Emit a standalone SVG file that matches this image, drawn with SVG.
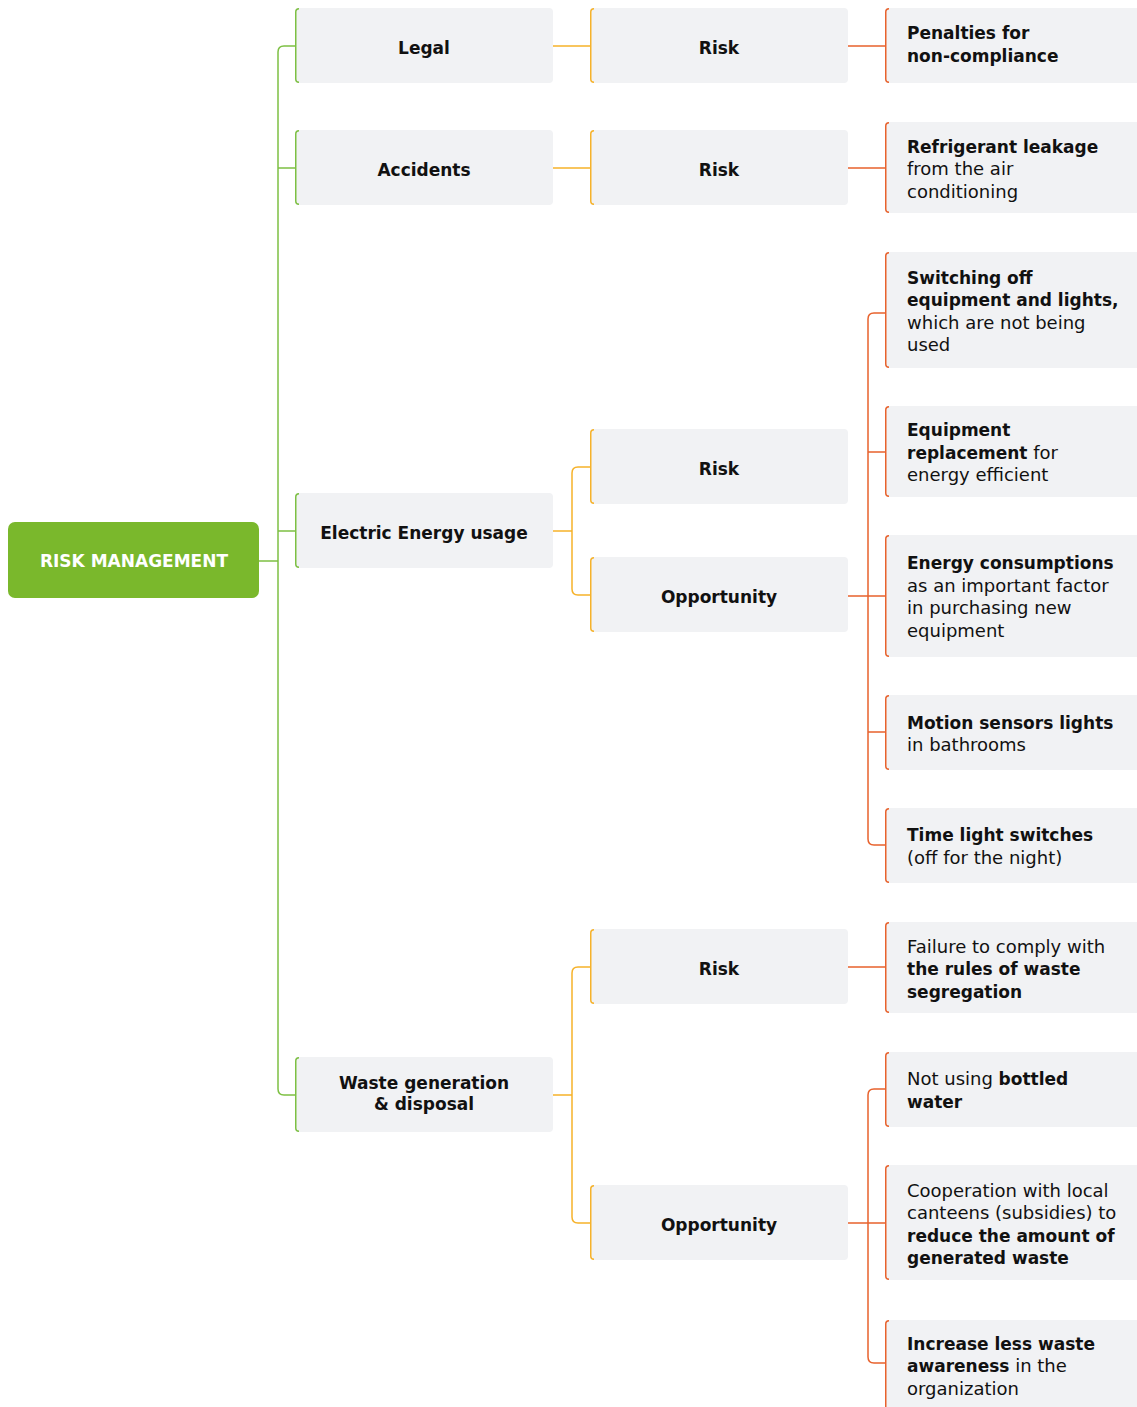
<svg xmlns="http://www.w3.org/2000/svg" width="1137" height="1407" viewBox="0 0 1137 1407">
<style>
text{font-family:"DejaVu Sans","Liberation Sans",sans-serif;fill:#111;font-size:18px}
.b{font-weight:bold;font-size:17px}
.c{text-anchor:middle;font-weight:bold;font-size:17px}
.root{fill:#7ab82c}
.rt{fill:#fff;font-weight:bold;font-size:17px;text-anchor:middle}
.n{fill:#f1f2f4}
.g{fill:none;stroke:#7dc043;stroke-width:1.5}
.y{fill:none;stroke:#f6b22a;stroke-width:1.5}
.o{fill:none;stroke:#e8622d;stroke-width:1.5}
</style>
<rect width="1137" height="1407" fill="#fff"/>
<g id="connectors">
<path class="g" d="M259,561 H278 M295,46 H284 Q278,46 278,52 V1089 Q278,1095 284,1095 H295 M278,168 H295 M278,531 H295"/>
<path class="y" d="M553,46 H590 M553,168 H590 M553,531 H572 M590,467 H578 Q572,467 572,473 V589 Q572,595 578,595 H590 M553,1095 H572 M590,967 H578 Q572,967 572,973 V1217 Q572,1223 578,1223 H590"/>
<path class="o" d="M848,46 H885 M848,168 H885 M848,596 H885 M885,313 H874 Q868,313 868,319 V839 Q868,845 874,845 H885 M868,452 H885 M868,732 H885 M848,967 H885 M848,1223 H885 M885,1089 H874 Q868,1089 868,1095 V1357 Q868,1363 874,1363 H885"/>
</g>
<g id="root">
<rect class="root" x="8" y="522" width="251" height="76" rx="7"/>
<text class="rt" x="134" y="567">RISK MANAGEMENT</text>
</g>
<g id="legal">
<rect class="n" x="295" y="8" width="258" height="75" rx="4"/>
<path class="g" d="M299,8.75 Q295.75,8.75 295.75,12 V79 Q295.75,82.25 299,82.25"/>
<text class="c" x="424" y="53.5">Legal</text>
</g>
<g id="accidents">
<rect class="n" x="295" y="130" width="258" height="75" rx="4"/>
<path class="g" d="M299,130.75 Q295.75,130.75 295.75,134 V201 Q295.75,204.25 299,204.25"/>
<text class="c" x="424" y="175.5">Accidents</text>
</g>
<g id="electric">
<rect class="n" x="295" y="493" width="258" height="75" rx="4"/>
<path class="g" d="M299,493.75 Q295.75,493.75 295.75,497 V564 Q295.75,567.25 299,567.25"/>
<text class="c" x="424" y="538.5">Electric Energy usage</text>
</g>
<g id="waste">
<rect class="n" x="295" y="1057" width="258" height="75" rx="4"/>
<path class="g" d="M299,1057.75 Q295.75,1057.75 295.75,1061 V1128 Q295.75,1131.25 299,1131.25"/>
<text class="c" x="424" y="1088.5">Waste generation</text>
<text class="c" x="424" y="1110">&amp; disposal</text>
</g>
<g id="legal-risk">
<rect class="n" x="590" y="8" width="258" height="75" rx="4"/>
<path class="y" d="M594,8.75 Q590.75,8.75 590.75,12 V79 Q590.75,82.25 594,82.25"/>
<text class="c" x="719" y="53.5">Risk</text>
</g>
<g id="accidents-risk">
<rect class="n" x="590" y="130" width="258" height="75" rx="4"/>
<path class="y" d="M594,130.75 Q590.75,130.75 590.75,134 V201 Q590.75,204.25 594,204.25"/>
<text class="c" x="719" y="175.5">Risk</text>
</g>
<g id="electric-risk">
<rect class="n" x="590" y="429" width="258" height="75" rx="4"/>
<path class="y" d="M594,429.75 Q590.75,429.75 590.75,433 V500 Q590.75,503.25 594,503.25"/>
<text class="c" x="719" y="474.5">Risk</text>
</g>
<g id="electric-opportunity">
<rect class="n" x="590" y="557" width="258" height="75" rx="4"/>
<path class="y" d="M594,557.75 Q590.75,557.75 590.75,561 V628 Q590.75,631.25 594,631.25"/>
<text class="c" x="719" y="602.5">Opportunity</text>
</g>
<g id="waste-risk">
<rect class="n" x="590" y="929" width="258" height="75" rx="4"/>
<path class="y" d="M594,929.75 Q590.75,929.75 590.75,933 V1000 Q590.75,1003.25 594,1003.25"/>
<text class="c" x="719" y="974.5">Risk</text>
</g>
<g id="waste-opportunity">
<rect class="n" x="590" y="1185" width="258" height="75" rx="4"/>
<path class="y" d="M594,1185.75 Q590.75,1185.75 590.75,1189 V1256 Q590.75,1259.25 594,1259.25"/>
<text class="c" x="719" y="1230.5">Opportunity</text>
</g>
<g id="penalties">
<rect class="n" x="885" y="8" width="262" height="75" rx="4"/>
<path class="o" d="M889,8.75 Q885.75,8.75 885.75,12 V79 Q885.75,82.25 889,82.25"/>
<text x="907"><tspan class="b" x="907" y="39">Penalties for</tspan><tspan class="b" x="907" y="62">non-compliance</tspan></text>
</g>
<g id="refrigerant">
<rect class="n" x="885" y="122" width="262" height="91" rx="4"/>
<path class="o" d="M889,122.75 Q885.75,122.75 885.75,126 V209 Q885.75,212.25 889,212.25"/>
<text x="907"><tspan class="b" x="907" y="152.5">Refrigerant leakage</tspan><tspan x="907" y="175">from the air</tspan><tspan x="907" y="197.5">conditioning</tspan></text>
</g>
<g id="switching">
<rect class="n" x="885" y="252" width="262" height="116" rx="4"/>
<path class="o" d="M889,252.75 Q885.75,252.75 885.75,256 V364 Q885.75,367.25 889,367.25"/>
<text x="907"><tspan class="b" x="907" y="283.5">Switching off</tspan><tspan class="b" x="907" y="306">equipment and lights,</tspan><tspan x="907" y="328.5">which are not being</tspan><tspan x="907" y="351">used</tspan></text>
</g>
<g id="equipment">
<rect class="n" x="885" y="406" width="262" height="91" rx="4"/>
<path class="o" d="M889,406.75 Q885.75,406.75 885.75,410 V493 Q885.75,496.25 889,496.25"/>
<text x="907"><tspan class="b" x="907" y="436">Equipment</tspan><tspan x="907" y="458.5"><tspan class="b">replacement</tspan> for</tspan><tspan x="907" y="481">energy efficient</tspan></text>
</g>
<g id="energy">
<rect class="n" x="885" y="535" width="262" height="122" rx="4"/>
<path class="o" d="M889,535.75 Q885.75,535.75 885.75,539 V653 Q885.75,656.25 889,656.25"/>
<text x="907"><tspan class="b" x="907" y="569">Energy consumptions</tspan><tspan x="907" y="591.5">as an important factor</tspan><tspan x="907" y="614">in purchasing new</tspan><tspan x="907" y="636.5">equipment</tspan></text>
</g>
<g id="motion">
<rect class="n" x="885" y="695" width="262" height="75" rx="4"/>
<path class="o" d="M889,695.75 Q885.75,695.75 885.75,699 V766 Q885.75,769.25 889,769.25"/>
<text x="907"><tspan class="b" x="907" y="728.5">Motion sensors lights</tspan><tspan x="907" y="751">in bathrooms</tspan></text>
</g>
<g id="time">
<rect class="n" x="885" y="808" width="262" height="75" rx="4"/>
<path class="o" d="M889,808.75 Q885.75,808.75 885.75,812 V879 Q885.75,882.25 889,882.25"/>
<text x="907"><tspan class="b" x="907" y="841">Time light switches</tspan><tspan x="907" y="863.5">(off for the night)</tspan></text>
</g>
<g id="failure">
<rect class="n" x="885" y="922" width="262" height="91" rx="4"/>
<path class="o" d="M889,922.75 Q885.75,922.75 885.75,926 V1009 Q885.75,1012.25 889,1012.25"/>
<text x="907"><tspan x="907" y="952.5">Failure to comply with</tspan><tspan class="b" x="907" y="975">the rules of waste</tspan><tspan class="b" x="907" y="997.5">segregation</tspan></text>
</g>
<g id="bottled">
<rect class="n" x="885" y="1052" width="262" height="75" rx="4"/>
<path class="o" d="M889,1052.75 Q885.75,1052.75 885.75,1056 V1123 Q885.75,1126.25 889,1126.25"/>
<text x="907"><tspan x="907" y="1085">Not using <tspan class="b">bottled</tspan></tspan><tspan class="b" x="907" y="1107.5">water</tspan></text>
</g>
<g id="cooperation">
<rect class="n" x="885" y="1165" width="262" height="115" rx="4"/>
<path class="o" d="M889,1165.75 Q885.75,1165.75 885.75,1169 V1276 Q885.75,1279.25 889,1279.25"/>
<text x="907"><tspan x="907" y="1196.5">Cooperation with local</tspan><tspan x="907" y="1219">canteens (subsidies) to</tspan><tspan class="b" x="907" y="1241.5">reduce the amount of</tspan><tspan class="b" x="907" y="1264">generated waste</tspan></text>
</g>
<g id="awareness">
<rect class="n" x="885" y="1320" width="262" height="100" rx="4"/>
<path class="o" d="M889,1320.75 Q885.75,1320.75 885.75,1324 V1410"/>
<text x="907"><tspan class="b" x="907" y="1349.5">Increase less waste</tspan><tspan x="907" y="1372"><tspan class="b">awareness</tspan> in the</tspan><tspan x="907" y="1394.5">organization</tspan></text>
</g>
</svg>
